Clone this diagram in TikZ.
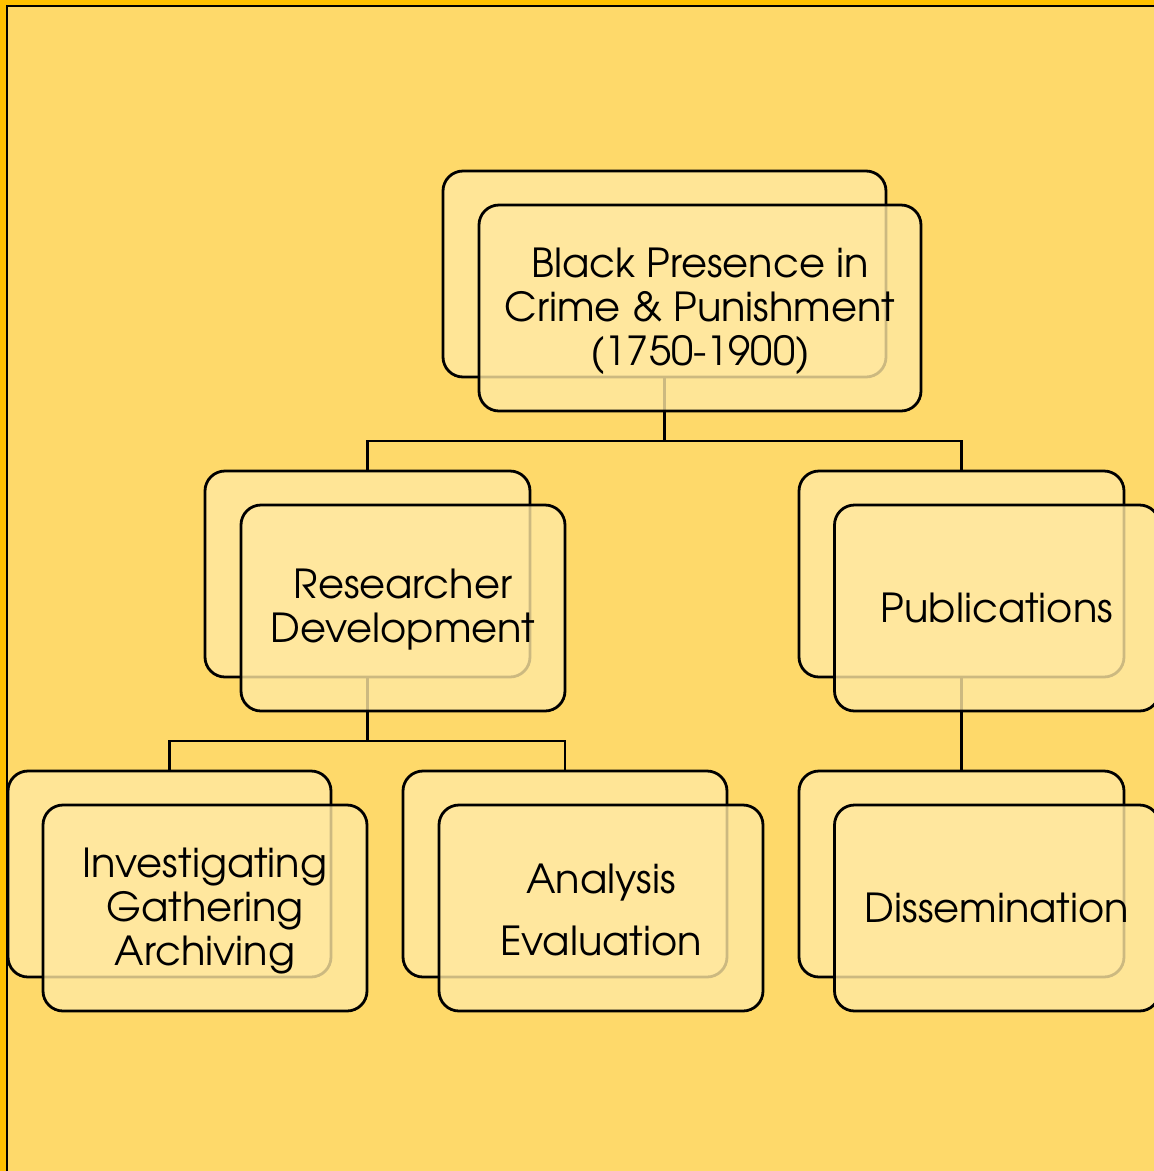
\documentclass[tikz,border=0pt]{standalone}
\usepackage{fontspec}
\setmainfont{texgyreadventor-regular.otf}
\definecolor{bgyel}{HTML}{FED96A}
\definecolor{frameor}{HTML}{FFC000}
\definecolor{backfill}{HTML}{FFE596}
\definecolor{frontfill}{HTML}{FFE8A1}
\tikzset{
  backbox/.style={draw=black, line width=2.8pt, fill=backfill, rounded corners=20pt, inner sep=0pt, minimum height=206pt},
  frontbox/.style={draw=black, line width=2.8pt, fill=frontfill, fill opacity=0.8, rounded corners=20pt, inner sep=0pt, minimum height=206pt},
  boxtext/.style={inner sep=0pt, align=center, font=\fontsize{40}{44}\selectfont},
  conn/.style={draw=black, line width=2.8pt}
}
\begin{document}
\begin{tikzpicture}[x=1pt,y=-1pt]
\useasboundingbox (0,0) rectangle (1154,1171);
\clip (0,0) rectangle (1154,1171);
% background and frame
\fill[frameor] (0,0) rectangle (1154,1171);
\fill[bgyel] (7,6) rectangle (1160,1180);
\draw[black, line width=2.4pt] (7,1180) -- (7,6) -- (1160,6);
% back boxes
\node[backbox, minimum width=443pt] (tb) at (664.5,274) {};
\node[backbox, minimum width=325pt] (rb) at (367.5,574) {};
\node[backbox, minimum width=325pt] (pb) at (961.5,574) {};
\node[backbox, minimum width=323pt] (ib) at (169.5,874) {};
\node[backbox, minimum width=324pt] (ab) at (565,874) {};
\node[backbox, minimum width=325pt] (db) at (961.5,874) {};
% connectors
\coordinate (j1) at (664.5,441);
\coordinate (j2) at (367.5,741);
\draw[conn] (tb.south) -- (j1) -| (rb.north);
\draw[conn] (j1) -| (pb.north);
\draw[conn] (rb.south) -- (j2) -| (ib.north);
\draw[conn] (j2) -| (ab.north);
\draw[conn] (pb.south) -- (db.north);
% front boxes
\node[frontbox, minimum width=442pt] (tf) at (700,308) {};
\node[frontbox, minimum width=324pt] (rf) at (403,608) {};
\node[frontbox, minimum width=325pt] (pf) at (997,608) {};
\node[frontbox, minimum width=324pt] (if) at (205,908) {};
\node[frontbox, minimum width=324pt] (af) at (601,908) {};
\node[frontbox, minimum width=325pt] (df) at (997,908) {};
% texts
\node[boxtext] (tft) at ([yshift=-3pt]tf.center) {Black Presence in\\Crime \& Punishment\\(1750-1900)};
\node[boxtext] (rft) at ([yshift=-2pt]rf.center) {Researcher\\Development};
\node[boxtext] (pft) at (pf.center) {Publications};
\node[boxtext] (ift) at ([yshift=-3pt]if.center) {Investigating\\Gathering\\Archiving};
\node[boxtext] (aft) at ([yshift=-2pt]af.center) {Analysis\\[18pt]Evaluation};
\node[boxtext] (dft) at (df.center) {Dissemination};
\end{tikzpicture}
\end{document}
